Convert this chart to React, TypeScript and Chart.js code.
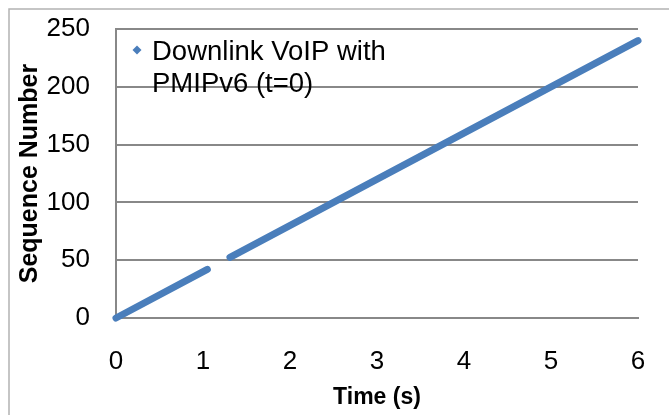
import React, { useEffect, useRef } from "react";
import { Chart, registerables } from "chart.js";

Chart.register(...registerables);

// Data
const segmentTimes = [0, 1.05, 1.18, 1.31, 6];
const segmentSeq: (number | null)[] = [0, 42, null, 52.5, 240];
const legendLines = ["Downlink VoIP with", "PMIPv6 (t=0)"];
const xTicks = [0, 1, 2, 3, 4, 5, 6];
const yTicks = [0, 50, 100, 150, 200, 250];
const xTitle = "Time (s)";
const yTitle = "Sequence Number";

const FONT = "'Liberation Sans', Arial, Helvetica, sans-serif";
const BLUE = "#4A7EBB";
const GRID = "#888888";

const framePlugin = {
  id: "frame",
  beforeDraw(chart: any) {
    const ctx = chart.ctx;
    ctx.save();
    ctx.fillStyle = "#ffffff";
    ctx.fillRect(0, 0, chart.width, chart.height);
    ctx.strokeStyle = "#b3b3b3";
    ctx.lineWidth = 1.5;
    ctx.strokeRect(9, 9, chart.width + 50, chart.height + 50);
    ctx.restore();
  },
};

const legendPlugin = {
  id: "customLegend",
  afterDraw(chart: any) {
    const ctx = chart.ctx;
    const area = chart.chartArea;
    const mx = area.left + 21;
    const my = area.top + 21;
    ctx.save();
    ctx.fillStyle = BLUE;
    ctx.beginPath();
    ctx.moveTo(mx, my - 4.5);
    ctx.lineTo(mx + 4.5, my);
    ctx.lineTo(mx, my + 4.5);
    ctx.lineTo(mx - 4.5, my);
    ctx.closePath();
    ctx.fill();
    ctx.fillStyle = "#000000";
    ctx.font = `27.5px ${FONT}`;
    ctx.textBaseline = "middle";
    ctx.textAlign = "left";
    legendLines.forEach((line, i) => {
      ctx.fillText(line, mx + 15, my + 2 + i * 32);
    });
    ctx.restore();
  },
};

export default function App() {
  const ref = useRef<HTMLCanvasElement>(null);
  useEffect(() => {
    if (!ref.current) return;
    const data = segmentTimes.map((t, i) => ({ x: t, y: segmentSeq[i] }));
    const chart = new Chart(ref.current, {
      type: "line",
      data: {
        datasets: [
          {
            label: legendLines.join(" "),
            data: data as any,
            borderColor: BLUE,
            backgroundColor: BLUE,
            borderWidth: 7,
            borderCapStyle: "round",
            pointRadius: 0,
            spanGaps: false,
            clip: false as any,
          },
        ],
      },
      options: {
        animation: false,
        responsive: false,
        layout: { padding: { left: 0, right: 31, top: 29, bottom: 0 } },
        plugins: {
          legend: { display: false },
          tooltip: { enabled: false },
        },
        scales: {
          x: {
            type: "linear",
            min: 0,
            max: 6,
            afterBuildTicks: (s: any) => {
              s.ticks = xTicks.map((v) => ({ value: v }));
            },
            afterFit: (s: any) => {
              s.height = 97;
              s.paddingLeft = 0;
              s.paddingRight = 0;
            },
            grid: { display: false, drawTicks: false },
            border: { display: true, color: GRID, width: 2 },
            ticks: {
              color: "#000000",
              font: { family: FONT, size: 26 },
              padding: 28,
              maxRotation: 0,
            },
            title: {
              display: true,
              text: xTitle,
              color: "#000000",
              font: { family: FONT, size: 23, weight: "bold" },
              padding: { top: 0, bottom: 4 },
            },
          },
          y: {
            type: "linear",
            min: 0,
            max: 250,
            afterBuildTicks: (s: any) => {
              s.ticks = yTicks.map((v) => ({ value: v }));
            },
            afterFit: (s: any) => {
              s.width = 116;
              s.paddingTop = 0;
              s.paddingBottom = 0;
            },
            grid: { color: GRID, lineWidth: 2, drawTicks: false },
            border: { display: true, color: GRID, width: 2 },
            ticks: {
              color: "#000000",
              font: { family: FONT, size: 26 },
              padding: 26,
            },
            title: {
              display: true,
              text: yTitle,
              color: "#000000",
              font: { family: FONT, size: 25, weight: "bold" },
              padding: { top: 15, bottom: 0 },
            },
          },
        },
      },
      plugins: [framePlugin, legendPlugin],
    });
    return () => chart.destroy();
  }, []);
  return (
    <div style={{ position: "fixed", left: 0, top: 0, width: 669, height: 415 }}>
      <canvas ref={ref} width={669} height={415} style={{ display: "block" }} />
    </div>
  );
}
